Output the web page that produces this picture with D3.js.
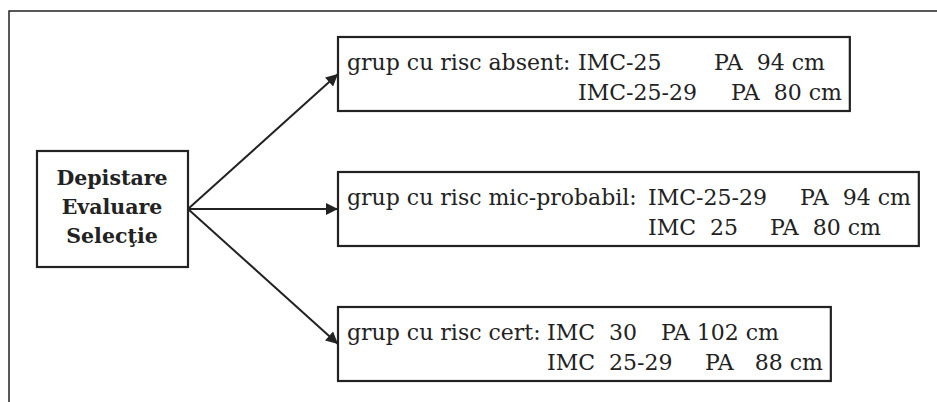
<!DOCTYPE html>
<html>
<head>
<meta charset="utf-8">
<script src="https://cdn.jsdelivr.net/npm/d3@7"></script>
<style>
  body { margin: 0; background: #fff; }
  text { font-family: "DejaVu Serif", "Liberation Serif", serif; fill: #222; white-space: pre; }
</style>
</head>
<body>
<div id="chart"></div>
<script>
// diagram content
const centerLines = ["Depistare", "Evaluare", "Selecţie"];
const groups = ["grup cu risc absent:", "grup cu risc mic-probabil:", "grup cu risc cert:"];
const imcTop = ["IMC-25", "IMC-25-29", "IMC  30"];
const paTop = ["PA  94 cm", "PA  94 cm", "PA 102 cm"];
const imcBottom = ["IMC-25-29", "IMC  25", "IMC  25-29"];
const paBottom = ["PA  80 cm", "PA  80 cm", "PA   88 cm"];

const width = 937, height = 402;
const ink = "#222";

// column layout inside each box (x of imc col, pa col on line 1 & 2)
const cols = [
  {imc: 578, pa1: 714, pa2: 731},
  {imc: 648, pa1: 800, pa2: 770},
  {imc: 547, pa1: 661, pa2: 705}
];

const svg = d3.select("#chart").append("svg")
    .attr("width", width)
    .attr("height", height);

svg.append("defs").append("marker")
    .attr("id", "head")
    .attr("viewBox", "0 0 10 10")
    .attr("refX", 10)
    .attr("refY", 5)
    .attr("markerUnits", "userSpaceOnUse")
    .attr("markerWidth", 16)
    .attr("markerHeight", 12)
    .attr("orient", "auto")
  .append("path")
    .attr("d", "M0,0L10,5L0,10Z")
    .attr("fill", ink);

// outer frame (top + left only)
svg.append("path")
    .attr("d", d3.line()([[9, height], [9, 11], [width, 11]]))
    .attr("fill", "none")
    .attr("stroke", ink)
    .attr("stroke-width", 1.5);

// vertical placement of the three group boxes
const y = d3.scalePoint()
    .domain(d3.range(groups.length))
    .range([74, 344]);

const boxH = 74, boxX = 338;

// center box
const cx = 112, cy = y(1);
svg.append("rect")
    .attr("x", 37).attr("y", cy - 58)
    .attr("width", 151).attr("height", 116)
    .attr("fill", "none")
    .attr("stroke", ink)
    .attr("stroke-width", 2.2);

svg.append("g").selectAll("text")
  .data(centerLines)
  .join("text")
    .attr("x", cx)
    .attr("y", (d, i) => cy - 24 + i * 29)
    .attr("text-anchor", "middle")
    .attr("font-weight", "bold")
    .attr("font-size", "20.5px")
    .text(d => d);

// arrows
svg.append("g").selectAll("line")
  .data(groups)
  .join("line")
    .attr("x1", 188).attr("y1", cy)
    .attr("x2", boxX).attr("y2", (d, i) => y(i))
    .attr("stroke", ink)
    .attr("stroke-width", 2)
    .attr("marker-end", "url(#head)");

// group boxes
const boxes = svg.append("g").selectAll("g")
  .data(groups)
  .join("g");

boxes.append("rect")
    .attr("x", boxX)
    .attr("y", (d, i) => y(i) - boxH / 2)
    .attr("height", boxH)
    .attr("fill", "#fff")
    .attr("stroke", ink)
    .attr("stroke-width", 2.2);

const fs = "22px";
boxes.each(function(d, i) {
  const g = d3.select(this);
  const b1 = y(i) - 4, b2 = y(i) + 26;
  const items = [
    [347, b1, d],
    [cols[i].imc, b1, imcTop[i]],
    [cols[i].pa1, b1, paTop[i]],
    [cols[i].imc, b2, imcBottom[i]],
    [cols[i].pa2, b2, paBottom[i]]
  ];
  let right = 0;
  items.forEach(([x, yy, t]) => {
    const node = g.append("text")
        .attr("x", x).attr("y", yy)
        .attr("font-size", fs)
        .text(t).node();
    right = Math.max(right, x + node.getComputedTextLength());
  });
  g.select("rect").attr("width", right + 8 - boxX);
});
</script>
</body>
</html>
